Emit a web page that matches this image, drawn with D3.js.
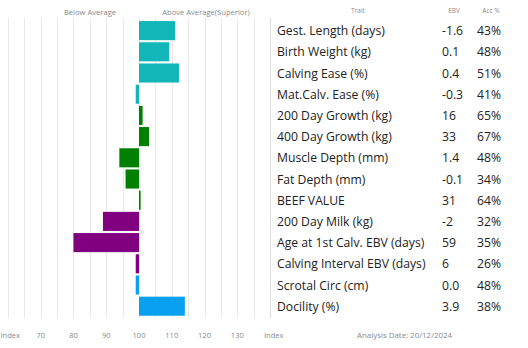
<!DOCTYPE html>
<html>
<head>
<meta charset="utf-8">
<script src="https://cdn.jsdelivr.net/npm/d3@7/dist/d3.min.js"></script>
<style>
  html, body { margin: 0; padding: 0; background: #fff; }
  svg { display: block; }
</style>
</head>
<body>
<svg id="chart" width="528" height="348"></svg>
<script>
// Trait list and EBV table
const traits = [
  "Gest. Length (days)", "Birth Weight (kg)", "Calving Ease (%)", "Mat.Calv. Ease (%)",
  "200 Day Growth (kg)", "400 Day Growth (kg)", "Muscle Depth (mm)", "Fat Depth (mm)",
  "BEEF VALUE", "200 Day Milk (kg)", "Age at 1st Calv. EBV (days)",
  "Calving Interval EBV (days)", "Scrotal Circ (cm)", "Docility (%)"
];
const ebv = ["-1.6", "0.1", "0.4", "-0.3", "16", "33", "1.4", "-0.1", "31", "-2", "59", "6", "0.0", "3.9"];
const accuracy = ["43%", "48%", "51%", "41%", "65%", "67%", "48%", "34%", "64%", "32%", "35%", "26%", "48%", "38%"];
// Index value per trait (100 = breed average)
const indexValues = [111, 109.2, 112.2, 99, 101.1, 103.1, 94, 95.9, 100.5, 89, 80, 99, 99, 114];
// Trait group per row
const groups = ["calving", "calving", "calving", "calving", "growth", "growth", "growth", "growth", "growth",
  "fertility", "fertility", "fertility", "other", "other"];
const groupColors = { calving: "#12b5b8", growth: "#008000", fertility: "#800080", other: "#0aa0f2" };
// Axis ticks
const tickValues = [60, 70, 80, 90, 100, 110, 120, 130, 140];
const tickLabels = ["Index", "70", "80", "90", "100", "110", "120", "130", "Index"];
const gridValues = d3.range(60, 141, 5);

const svg = d3.select("#chart");
const font = "'Open Sans', 'Noto Sans', sans-serif";

const x = d3.scaleLinear().domain([70, 130]).range([40.7, 237.3]);
const y = d3.scaleBand().domain(d3.range(traits.length)).range([20, 20 + traits.length * 21.2]).paddingInner(0.1).paddingOuter(0.05);

// Vertical grid
svg.append("g").selectAll("line").data(gridValues).join("line")
  .attr("x1", d => Math.round(x(d)) + 0.5).attr("x2", d => Math.round(x(d)) + 0.5)
  .attr("y1", 18).attr("y2", 318)
  .attr("stroke", d => d === 140 ? "#dedede" : "#e8e8e8").attr("stroke-width", 1);

// Bars from the 100 baseline
svg.append("g").selectAll("rect").data(indexValues).join("rect")
  .attr("x", d => x(Math.min(d, 100)))
  .attr("width", d => Math.max(1.5, Math.abs(x(d) - x(100))))
  .attr("y", (d, i) => y(i))
  .attr("height", y.bandwidth())
  .attr("fill", (d, i) => groupColors[groups[i]]);

// Bottom axis labels; the outer "Index" labels are kept inside the frame
svg.append("g").selectAll("text").data(tickValues).join("text")
  .attr("x", (d, i) => i === 0 ? 0.5 : (i === tickValues.length - 1 ? 264 : x(d)))
  .attr("y", 338)
  .attr("text-anchor", (d, i) => (i === 0 || i === tickValues.length - 1) ? "start" : "middle")
  .attr("font-family", font).attr("font-size", 7.5).attr("fill", "#8a8a8a")
  .text((d, i) => tickLabels[i]);

// Headers above the bars
svg.append("text").attr("x", 90).attr("y", 15).attr("text-anchor", "middle")
  .attr("font-family", font).attr("font-size", 7.6).attr("fill", "#8a8a8a").text("Below Average");
svg.append("text").attr("x", 206).attr("y", 15).attr("text-anchor", "middle")
  .attr("font-family", font).attr("font-size", 7.6).attr("fill", "#8a8a8a").text("Above Average(Superior)");

// Table headers
const hdr = [["Trait", 358], ["EBV", 454], ["Acc %", 491]];
svg.append("g").selectAll("text").data(hdr).join("text")
  .attr("x", d => d[1]).attr("y", 13).attr("text-anchor", "middle")
  .attr("font-family", font).attr("font-size", 6.5).attr("fill", "#8a8a8a")
  .text(d => d[0]);

// Table rows
const rows = svg.append("g").selectAll("g").data(traits).join("g")
  .attr("transform", (d, i) => `translate(0,${y(i) + y.bandwidth() / 2 + 4.5})`);
rows.append("text").attr("x", 277).attr("font-family", font).attr("font-size", 12.2).attr("fill", "#222")
  .text(d => d);
rows.append("text").attr("x", 442).attr("font-family", font).attr("font-size", 12.2).attr("fill", "#222")
  .text((d, i) => ebv[i]);
rows.append("text").attr("x", 477).attr("font-family", font).attr("font-size", 12.2).attr("fill", "#222")
  .text((d, i) => accuracy[i]);

svg.append("text").attr("x", 357).attr("y", 338)
  .attr("font-family", font).attr("font-size", 7.9).attr("fill", "#8a8a8a")
  .text("Analysis Date: 20/12/2024");
</script>
</body>
</html>
